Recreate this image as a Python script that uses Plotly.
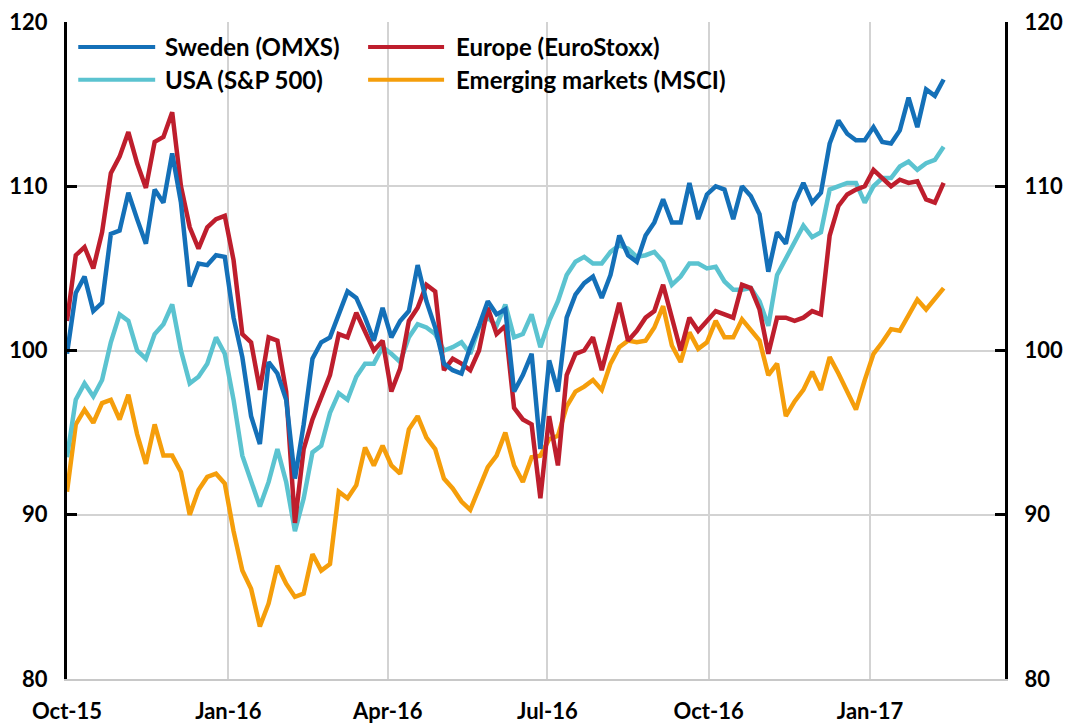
import pandas as pd
import plotly.graph_objects as go

# ---- data (index levels; 5-day spacing from 1 Oct 2015) ----
dates = pd.date_range("2015-10-01", periods=101, freq="5D")

sweden = [99.8, 103.5, 104.5, 102.4, 102.9, 107.1, 107.3, 109.6, 108.0, 106.5,
          109.8, 109.0, 112.0, 109.0, 103.9, 105.3, 105.2, 105.8, 105.7, 102.0,
          99.6, 96.0, 94.3, 99.3, 98.6, 97.0, 92.2, 95.5, 99.5, 100.5,
          100.8, 102.2, 103.6, 103.2, 102.0, 100.6, 102.6, 100.8, 101.8, 102.4,
          105.2, 103.0, 101.4, 99.2, 98.8, 98.6, 100.2, 101.5, 103.0, 102.2,
          102.5, 97.5, 98.5, 99.8, 94.0, 99.4, 97.5, 102.0, 103.4, 104.1,
          104.5, 103.2, 104.6, 107.0, 105.8, 105.4, 107.0, 107.8, 109.2, 107.8,
          107.8, 110.2, 108.0, 109.5, 110.0, 109.8, 108.0, 110.0, 109.4, 108.3,
          104.8, 107.2, 106.5, 109.0, 110.2, 109.0, 109.6, 112.6, 114.0, 113.2,
          112.8, 112.8, 113.6, 112.7, 112.6, 113.4, 115.4, 113.6, 115.9, 115.5,
          116.5]

europe = [101.8, 105.8, 106.3, 105.0, 107.2, 110.8, 111.8, 113.3, 111.4, 109.9,
          112.7, 113.0, 114.5, 110.0, 107.5, 106.2, 107.5, 108.0, 108.2, 105.5,
          101.0, 100.5, 97.6, 100.8, 100.6, 97.5, 89.5, 94.0, 95.8, 97.2,
          98.5, 101.0, 100.8, 102.3, 101.2, 100.0, 100.6, 97.5, 98.9, 101.8,
          102.6, 104.0, 103.6, 98.8, 99.5, 99.2, 98.8, 100.0, 102.6, 101.0,
          101.5, 96.5, 95.8, 95.5, 91.0, 96.0, 93.0, 98.5, 99.8, 100.0,
          100.8, 98.8, 100.8, 102.9, 100.6, 101.2, 102.0, 102.4, 104.0, 102.0,
          100.0, 102.0, 101.2, 101.8, 102.4, 102.2, 102.0, 104.0, 103.8, 102.5,
          99.8, 102.0, 102.0, 101.8, 102.0, 102.4, 102.2, 107.0, 108.8, 109.5,
          109.8, 110.0, 111.0, 110.5, 110.0, 110.4, 110.2, 110.3, 109.2, 109.0,
          110.2]

usa = [93.5, 97.0, 98.0, 97.2, 98.2, 100.5, 102.2, 101.8, 100.0, 99.5,
       101.0, 101.6, 102.8, 100.0, 98.0, 98.4, 99.2, 100.8, 99.8, 97.0,
       93.6, 92.0, 90.5, 92.0, 94.0, 92.0, 89.0, 91.0, 93.8, 94.2,
       96.2, 97.4, 97.0, 98.4, 99.2, 99.2, 100.2, 99.8, 99.3, 100.8,
       101.6, 101.4, 101.0, 100.0, 100.2, 100.5, 99.8, 101.4, 102.0, 101.5,
       102.8, 100.8, 101.0, 102.2, 100.2, 101.8, 103.0, 104.6, 105.4, 105.7,
       105.3, 105.3, 106.0, 106.4, 106.2, 105.7, 105.8, 106.0, 105.4, 104.0,
       104.5, 105.3, 105.3, 105.0, 105.1, 104.2, 103.7, 103.7, 103.8, 103.0,
       101.5, 104.6, 105.6, 106.6, 107.6, 106.9, 107.2, 109.8, 110.0, 110.2,
       110.2, 109.0, 110.0, 110.5, 110.5, 111.2, 111.5, 111.0, 111.4, 111.6,
       112.4]

emerging = [91.4, 95.5, 96.4, 95.6, 96.8, 97.0, 95.8, 97.3, 94.9, 93.1,
            95.5, 93.6, 93.6, 92.6, 90.0, 91.5, 92.3, 92.5, 91.9, 89.0,
            86.6, 85.5, 83.2, 84.6, 86.9, 85.8, 85.0, 85.2, 87.6, 86.6,
            87.0, 91.4, 91.0, 91.8, 94.1, 93.0, 94.2, 93.0, 92.5, 95.2,
            96.0, 94.7, 94.0, 92.2, 91.6, 90.8, 90.3, 91.6, 92.9, 93.6,
            95.0, 93.0, 92.0, 93.5, 93.6, 94.6, 94.8, 96.6, 97.5, 97.8,
            98.2, 97.6, 99.2, 100.2, 100.6, 100.5, 100.6, 101.4, 102.7, 100.3,
            99.3, 101.1, 100.1, 100.5, 101.8, 100.8, 100.8, 101.9, 101.2, 100.6,
            98.5, 99.2, 96.0, 96.9, 97.6, 98.7, 97.6, 99.6, 98.6, 97.5,
            96.4, 98.2, 99.8, 100.5, 101.3, 101.2, 102.2, 103.1, 102.5, 103.2,
            103.8]

series_names = ["Sweden (OMXS)", "Europe (EuroStoxx)", "USA (S&P 500)", "Emerging markets (MSCI)"]
tick_dates = ["2015-10-01", "2016-01-01", "2016-04-01", "2016-07-01", "2016-10-01", "2017-01-01"]
tick_labels = ["Oct-15", "Jan-16", "Apr-16", "Jul-16", "Oct-16", "Jan-17"]
y_ticks = [80, 90, 100, 110, 120]

colors = {
    "Sweden (OMXS)": "#1470B8",
    "Europe (EuroStoxx)": "#BE1E2D",
    "USA (S&P 500)": "#5BC3D0",
    "Emerging markets (MSCI)": "#F59E0B",
}
values = {
    "Sweden (OMXS)": sweden,
    "Europe (EuroStoxx)": europe,
    "USA (S&P 500)": usa,
    "Emerging markets (MSCI)": emerging,
}

FONT = "Lato"
fig = go.Figure()
for name in ["Emerging markets (MSCI)", "USA (S&P 500)", "Europe (EuroStoxx)", "Sweden (OMXS)"]:
    fig.add_trace(go.Scatter(x=dates, y=values[name], mode="lines", name=name,
                             line=dict(color=colors[name], width=4.5), showlegend=False))

# invisible trace so the right-hand axis is drawn
fig.add_trace(go.Scatter(x=[dates[0]], y=[100], yaxis="y2", mode="lines",
                         line=dict(width=0), opacity=0, showlegend=False, hoverinfo="skip"))

axis_font = dict(family=FONT, size=22, color="black", weight="bold")
common_y = dict(range=[80, 120], tickvals=y_ticks, ticks="inside", ticklen=10, tickwidth=3,
                tickcolor="black", showline=True, linecolor="black", linewidth=3,
                tickfont=axis_font, zeroline=False, ticklabelstandoff=12, automargin=False)

fig.update_layout(
    width=1082, height=726,
    margin=dict(l=67, r=77, t=22, b=47, autoexpand=False),
    paper_bgcolor="white", plot_bgcolor="white",
    font=dict(family=FONT),
    xaxis=dict(type="date", range=["2015-10-01", "2017-03-19"], tickvals=tick_dates,
               ticktext=tick_labels, showgrid=True, gridcolor="#D3D3D3", gridwidth=1.5,
               showline=True, linecolor="#C8C8C8", linewidth=2, ticks="",
               tickfont=axis_font, ticklabelstandoff=12, zeroline=False, automargin=False),
    yaxis=dict(**common_y, showgrid=True, gridcolor="#D3D3D3", gridwidth=1.5, side="left"),
    yaxis2=dict(**common_y, overlaying="y", side="right", showgrid=False),
    showlegend=False,
)

# legend drawn in paper coordinates (two rows, two columns)
legend_layout = [
    ("Sweden (OMXS)", 0.012, 0.094, 0.102, 0.962),
    ("Europe (EuroStoxx)", 0.321, 0.402, 0.413, 0.962),
    ("USA (S&P 500)", 0.012, 0.094, 0.102, 0.912),
    ("Emerging markets (MSCI)", 0.321, 0.402, 0.413, 0.912),
]
for name, x0, x1, xt, yy in legend_layout:
    fig.add_shape(type="line", xref="paper", yref="paper", x0=x0, x1=x1, y0=yy, y1=yy,
                  line=dict(color=colors[name], width=4))
    fig.add_annotation(xref="paper", yref="paper", x=xt, y=yy, text=name, showarrow=False,
                       xanchor="left", yanchor="middle",
                       font=dict(family=FONT, size=24, color="black", weight="bold"))

# remove the default page margin so the 1082x726 figure fills the window exactly
fig.write_html("out.html",
               config={"displayModeBar": False},
               post_script="document.documentElement.style.margin='0';"
                           "document.body.style.margin='0';"
                           "document.body.style.overflow='hidden';")
